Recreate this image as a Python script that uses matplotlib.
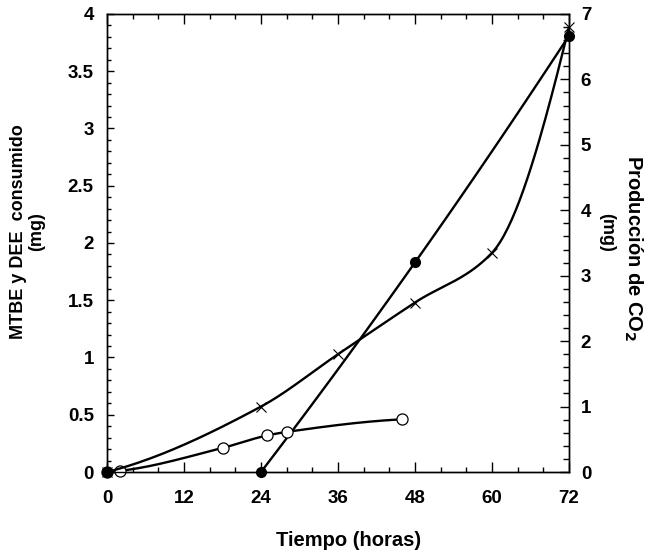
import numpy as np
import matplotlib
matplotlib.use('Agg')
import matplotlib.pyplot as plt
from matplotlib.ticker import MultipleLocator

plt.rcParams['font.family'] = ['Liberation Sans', 'DejaVu Sans']
plt.rcParams['font.weight'] = 'bold'
plt.rcParams['mathtext.default'] = 'bf'

# datos
t_mtbe = [0, 24, 48, 72]
mtbe = [0, 0, 1.83, 3.81]
t_dee = [0, 2, 18, 25, 28, 46]
dee = [0, 0.01, 0.21, 0.32, 0.35, 0.46]
t_co2 = [0, 24, 36, 48, 60, 72]
co2 = [0, 1.0, 1.80, 2.59, 3.35, 6.80]
xticks = [0, 12, 24, 36, 48, 60, 72]


def suave(x, y, n=40):
    # curva suave (hermite monotona) que pasa por los puntos
    x = np.asarray(x, float)
    y = np.asarray(y, float)
    h = np.diff(x)
    d = np.diff(y) / h
    m = np.zeros(len(x))
    for k in range(1, len(x) - 1):
        if d[k - 1] * d[k] > 0:
            w1 = 2 * h[k] + h[k - 1]
            w2 = h[k] + 2 * h[k - 1]
            m[k] = (w1 + w2) / (w1 / d[k - 1] + w2 / d[k])
    if len(x) > 2:
        m[0] = ((2 * h[0] + h[1]) * d[0] - h[0] * d[1]) / (h[0] + h[1])
        m[-1] = ((2 * h[-1] + h[-2]) * d[-1] - h[-1] * d[-2]) / (h[-1] + h[-2])
        if m[0] * d[0] < 0:
            m[0] = 0
        if m[-1] * d[-1] < 0:
            m[-1] = 0
    else:
        m[:] = d[0]
    px, py = [], []
    for i in range(len(x) - 1):
        s = np.linspace(0, 1, n)
        h00 = 2 * s**3 - 3 * s**2 + 1
        h10 = s**3 - 2 * s**2 + s
        h01 = -2 * s**3 + 3 * s**2
        h11 = s**3 - s**2
        px.extend(x[i] + s * h[i])
        py.extend(h00 * y[i] + h10 * h[i] * m[i] + h01 * y[i + 1] + h11 * h[i] * m[i + 1])
    return np.array(px), np.array(py)


fig = plt.figure(figsize=(6.47, 5.57), dpi=100)
ax = fig.add_axes([0.1654, 0.1526, 0.7140, 0.8223])
ax2 = ax.twinx()

# MTBE (circulos llenos)
cx, cy = suave(t_mtbe[1:], mtbe[1:])
ax.plot(cx, cy, color='black', lw=1.7, zorder=3)
ax.plot(t_mtbe, mtbe, 'o', color='black', ms=7, zorder=5, clip_on=False)

# DEE (circulos abiertos)
cx, cy = suave(t_dee, dee)
ax.plot(cx, cy, color='black', lw=1.7, zorder=3)
ax.plot(t_dee, dee, 'o', mfc='white', mec='black', mew=0.9, ms=8, zorder=4, clip_on=False)

# CO2 (cruces, eje derecho)
cx, cy = suave(t_co2, co2)
ax2.plot(cx, cy, color='black', lw=1.7, zorder=3)
ax2.plot(t_co2, co2, 'x', color='black', mew=0.8, ms=7, zorder=4, clip_on=False)

ax.set_xlim(0, 72)
ax.set_ylim(0, 4)
ax2.set_ylim(0, 7)
ax.set_xticks(xticks)
ax.xaxis.set_minor_locator(MultipleLocator(4))
ax.yaxis.set_major_locator(MultipleLocator(0.5))
ax.yaxis.set_minor_locator(MultipleLocator(0.1))
ax2.yaxis.set_major_locator(MultipleLocator(1))
ax2.yaxis.set_minor_locator(MultipleLocator(0.2))
ax.yaxis.set_major_formatter(plt.FuncFormatter(lambda v, p: ('%g' % v)))

fs = 13.5
ax.tick_params(axis='x', which='both', direction='in', top=True, labelsize=fs, pad=13)
ax.tick_params(axis='x', which='major', length=7, width=1)
ax.tick_params(axis='x', which='minor', length=3.5, width=1)
ax.tick_params(axis='y', which='major', direction='in', length=5, width=1, labelsize=fs, pad=9.5)
ax.tick_params(axis='y', which='minor', direction='in', length=3, width=1)
ax2.tick_params(axis='y', which='major', direction='in', length=6.5, width=1, labelsize=fs, pad=8.5)
ax2.tick_params(axis='y', which='minor', direction='in', length=4, width=1)
for a in (ax, ax2):
    for s in a.spines.values():
        s.set_linewidth(1)

fig.text(0.0425, 0.585, 'MTBE y DEE  consumido\n(mg)', rotation=90, ha='center', va='center',
         fontsize=13, fontweight='bold', linespacing=1.05)
fig.text(0.979, 0.555, 'Producción de CO$_2$', rotation=270, ha='center', va='center',
         fontsize=14.5, fontweight='bold')
fig.text(0.937, 0.583, '(mg)', rotation=270, ha='center', va='center',
         fontsize=13, fontweight='bold')
fig.text(0.538, 0.029, 'Tiempo (horas)', ha='center', va='center', fontsize=14.5, fontweight='bold')

fig.savefig('out.png', dpi=100)
